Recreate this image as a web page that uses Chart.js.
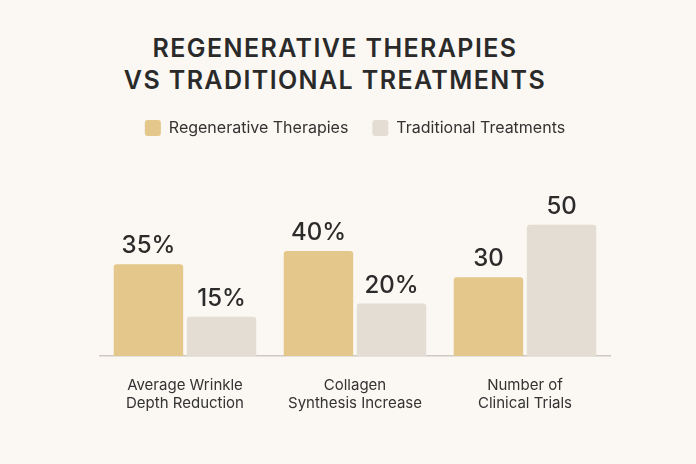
<!DOCTYPE html>
<html>
<head>
<meta charset="utf-8">
<script src="https://cdn.jsdelivr.net/npm/chart.js@4"></script>
<style>
  html, body { margin: 0; padding: 0; background: #fbf7f2; }
  #wrap { position: relative; width: 696px; height: 464px; }
  #title {
    position: absolute; left: 0; top: 32px; width: 670px;
    text-align: center; font-family: Inter, sans-serif; font-weight: 600;
    font-size: 25px; line-height: 32px; letter-spacing: 1.4px; color: #2a2a2a;
  }
  canvas { position: absolute; left: 0; top: 0; }
</style>
</head>
<body>
<div id="wrap">
  <div id="title">REGENERATIVE THERAPIES<br>VS TRADITIONAL TREATMENTS</div>
  <canvas id="chart" width="696" height="464"></canvas>
</div>
<script>
// data
const categories = [
  ['Average Wrinkle', 'Depth Reduction'],
  ['Collagen', 'Synthesis Increase'],
  ['Number of', 'Clinical Trials']
];
const regenerative = [35, 40, 30];
const traditional = [15, 20, 50];
const units = ['%', '%', ''];

// draws the number above every bar
const barLabels = {
  id: 'barLabels',
  afterDatasetsDraw(chart) {
    const ctx = chart.ctx;
    ctx.save();
    ctx.font = '500 24px Inter, sans-serif';
    ctx.fillStyle = '#2b2b2b';
    ctx.textAlign = 'center';
    ctx.textBaseline = 'bottom';
    chart.data.datasets.forEach(function (ds, i) {
      chart.getDatasetMeta(i).data.forEach(function (bar, j) {
        ctx.fillText(ds.data[j] + units[j], bar.x, bar.y - 6);
      });
    });
    ctx.restore();
  }
};

new Chart(document.getElementById('chart'), {
  type: 'bar',
  data: {
    labels: categories,
    datasets: [{
      label: 'Regenerative Therapies',
      data: regenerative,
      backgroundColor: '#e3c78b',
      borderRadius: 3,
      categoryPercentage: 0.86,
      barPercentage: 0.95
    }, {
      label: 'Traditional Treatments',
      data: traditional,
      backgroundColor: '#e4ddd3',
      borderRadius: 3,
      categoryPercentage: 0.86,
      barPercentage: 0.95
    }]
  },
  options: {
    responsive: false,
    animation: false,
    layout: { padding: { top: 96, left: 100, right: 86, bottom: 40 } },
    plugins: {
      legend: {
        labels: {
          boxWidth: 16,
          boxHeight: 16,
          useBorderRadius: true,
          borderRadius: 3,
          padding: 24,
          color: '#333',
          font: { family: 'Inter', size: 16 }
        }
      },
      tooltip: { enabled: false }
    },
    scales: {
      y: { display: false, min: 0, max: 80 },
      x: {
        grid: { display: false },
        border: { color: '#cfc9c1', width: 1.5 },
        ticks: {
          color: '#333',
          padding: 12,
          font: { family: 'Inter', size: 15, lineHeight: 1.2 }
        }
      }
    }
  },
  plugins: [barLabels]
});
</script>
</body>
</html>
